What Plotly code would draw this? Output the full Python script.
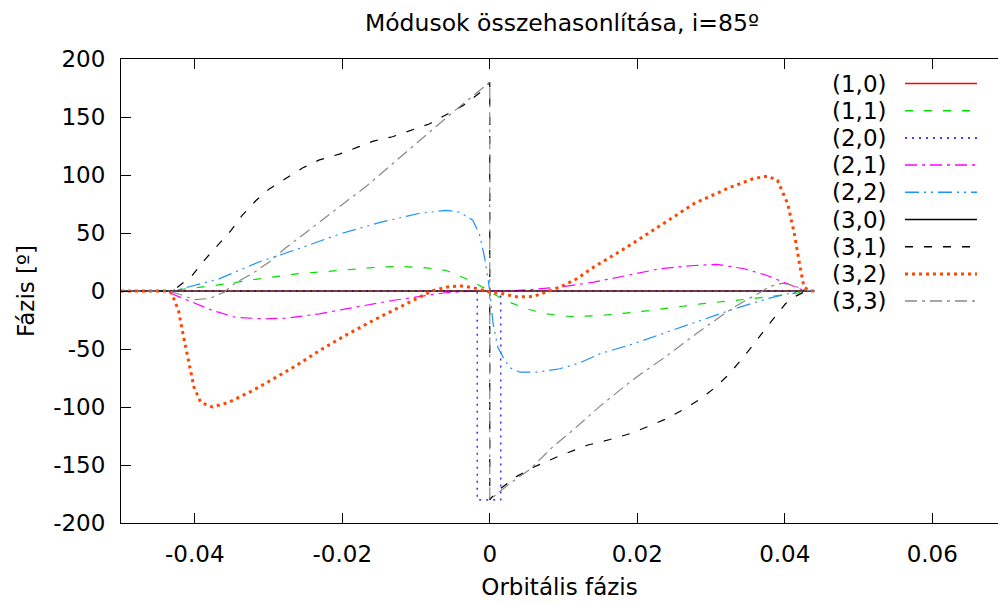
import plotly.graph_objects as go

# ---------------- data ----------------
names = ["(1,0)", "(1,1)", "(2,0)", "(2,1)", "(2,2)", "(3,0)", "(3,1)", "(3,2)", "(3,3)"]

x10 = [-0.05, 0.044]
y10 = [0, 0]

x11 = [-0.05, -0.0435, -0.0417, -0.0372, -0.0313, -0.0259, -0.0204, -0.015, -0.0122, -0.0086,
       -0.0059, -0.0032, -0.0014, 0, 0.00045, 0.0027, 0.005, 0.0077, 0.0109, 0.015, 0.0218,
       0.0286, 0.0354, 0.0399, 0.0435, 0.044]
y11 = [0, 0, 1.5, 4.8, 10.5, 15, 17.7, 20.6, 21.2, 20, 17.7, 10.5, 4.8, 0, -2.4, -9.7, -15.4,
       -19.7, -22, -21.2, -16.8, -11.1, -6.7, -3, 0, 0]

x20 = [-0.05, -0.0017, -0.0017, 0.0015, 0.0015, 0.044]
y20 = [0, 0, -180, -180, 0, 0]

x21 = [-0.05, -0.0435, -0.0431, -0.0408, -0.0376, -0.0345, -0.0308, -0.0277, -0.0231, -0.0195,
       -0.0132, -0.0086, -0.006, -0.003, 0, 0.003, 0.006, 0.0095, 0.0141, 0.0186, 0.0231, 0.0277,
       0.0308, 0.0345, 0.0376, 0.0404, 0.0426, 0.0435, 0.044]
y21 = [0, 0, -2.4, -8.2, -16.8, -22.6, -24, -23.5, -19.7, -15.4, -8.2, -3.9, -1.5, -0.3, 0, 0.3,
       1.5, 3.3, 7.6, 13.4, 19.2, 22, 22.9, 19.2, 13.4, 6.2, 0.4, 0, 0]

x22 = [-0.05, -0.0435, -0.0417, -0.0367, -0.0313, -0.0259, -0.0204, -0.015, -0.0095, -0.0059,
       -0.0041, -0.0023, -0.0014, -0.0007, -0.0002, 0, 0.00045, 0.0011, 0.0018, 0.0027, 0.0041,
       0.0064, 0.0095, 0.0122, 0.015, 0.0195, 0.024, 0.0286, 0.0331, 0.0376, 0.0404, 0.043, 0.044]
y22 = [0, 0, 2, 10.5, 25, 36.5, 49, 59, 67, 69.5, 68, 61, 49, 29, 9, 0, -28, -48.5, -57, -66,
       -70, -70, -67, -62, -54, -45.5, -35.5, -25.5, -15.5, -6.7, -2.4, 0, 0]

x30 = [-0.05, 0.044]
y30 = [0, 0]

x31 = [-0.05, -0.0435, -0.0426, -0.0404, -0.0385, -0.037, -0.0351, -0.0336, -0.0317, -0.0299,
       -0.0277, -0.0254, -0.0231, -0.0204, -0.0179, -0.0159, -0.0132, -0.0104, -0.0082, -0.0059,
       -0.0036, -0.0009, 0, 0, 0.0009, 0.0036, 0.0059, 0.0095, 0.0132, 0.0163, 0.019, 0.0218,
       0.024, 0.0263, 0.0286, 0.0306, 0.0324, 0.034, 0.0358, 0.0372, 0.0388, 0.0401, 0.0413,
       0.0426, 0.0435, 0.044]
y31 = [0, 0, 2, 13, 28, 39, 52, 65, 78, 88, 97, 106, 113, 118, 124, 129, 133, 139, 144, 152,
       160, 173, 180, -180, -173, -160, -152, -142, -133, -128, -123, -116, -110, -102, -93, -83,
       -72, -60, -46, -34, -21, -11, -5, -1, 0, 0]

x32 = [-0.05, -0.0435, -0.0431, -0.0422, -0.0415, -0.0408, -0.0401, -0.0392, -0.0376, -0.0354,
       -0.0322, -0.029, -0.0259, -0.0231, -0.0195, -0.0154, -0.0122, -0.0095, -0.0077, -0.0059,
       -0.0041, -0.0023, 0, 0.0018, 0.0036, 0.0059, 0.0082, 0.0095, 0.0118, 0.0141, 0.0186,
       0.0231, 0.0277, 0.0322, 0.0358, 0.0376, 0.039, 0.0404, 0.0413, 0.042, 0.0426, 0.0435, 0.044]
y32 = [0, 0, -2.4, -17, -40, -63, -83, -96, -100, -96, -86, -74.5, -63, -51.4, -38, -24, -14,
       -5.4, 0.4, 3.3, 4.5, 3, -1, -2.4, -5, -4.8, 0, 3.3, 10.5, 20.6, 37.8, 56.6, 75.3, 88.3, 97,
       99, 95.5, 75.3, 49.4, 23.5, 3.3, 0, 0]

x33 = [-0.05, -0.0435, -0.042, -0.04, -0.038, -0.036, -0.0345, -0.0322, -0.0299, -0.0277, -0.025,
       -0.0222, -0.0195, -0.0168, -0.0135, -0.0109, -0.008, -0.0054, -0.0027, 0, 0, 0.0027,
       0.0054, 0.0086, 0.0109, 0.015, 0.0195, 0.024, 0.0286, 0.0331, 0.0363, 0.038, 0.0397,
       0.041, 0.0425, 0.0435, 0.044]
y33 = [0, 0, -3, -7.5, -6.5, -1, 7, 15, 25, 37, 50, 64, 77, 90, 108, 122, 138, 152, 166, 180,
       -180, -166, -154, -134, -122, -99, -76, -56, -34, -14, -2.5, 4, 6.7, 5, 1.5, 0, 0]

xs = [x10, x11, x20, x21, x22, x30, x31, x32, x33]
ys = [y10, y11, y20, y21, y22, y30, y31, y32, y33]

x_tickvals = [-0.04, -0.02, 0, 0.02, 0.04, 0.06]
x_ticktext = ["-0.04", "-0.02", "0", "0.02", "0.04", "0.06"]
y_tickvals = [-200, -150, -100, -50, 0, 50, 100, 150, 200]
y_ticktext = ["-200", "-150", "-100", "-50", "0", "50", "100", "150", "200"]

# ---------------- styles ----------------
colors = ["#ff0000", "#00dd00", "#0000ff", "#ff00ff", "#1e90ff", "#000000", "#000000", "#ff4500", "#888888"]
dashes = ["solid", "8px,11px", "2px,5px", "12px,5px,3px,5px", "14px,5px,2px,5px,2px,5px",
          "solid", "8px,11px", "3px,4px", "12px,5px,3px,5px"]
widths = [1.2, 1.2, 1.2, 1.2, 1.2, 1.2, 1.2, 3, 1.2]

FONT = "DejaVu Sans"
FS = 23
W, H = 998, 604
L, R, T, B = 121, 0, 59, 81
PW, PH = W - L - R, H - T - B

fig = go.Figure()
for n, x, y, c, d, w in zip(names, xs, ys, colors, dashes, widths):
    fig.add_trace(go.Scatter(x=x, y=y, mode="lines", name=n, showlegend=False,
                             line=dict(color=c, dash=d, width=w)))

# manual gnuplot-style key: label on the left, line sample on the right
def px2paper_x(px):
    return (px - L) / PW

def px2paper_y(py):
    return (H - B - py) / PH

key_top, key_step = 83.5, 27.2
annotations = []
shapes = []
for i, (n, c, d, w) in enumerate(zip(names, colors, dashes, widths)):
    yy = px2paper_y(key_top + i * key_step)
    annotations.append(dict(x=px2paper_x(889), y=yy, xref="paper", yref="paper", text=n,
                            showarrow=False, xanchor="right", yanchor="middle",
                            font=dict(family=FONT, size=FS, color="black")))
    shapes.append(dict(type="line", xref="paper", yref="paper", x0=px2paper_x(905),
                       x1=px2paper_x(977), y0=yy, y1=yy, layer="above",
                       line=dict(color=c, dash=d, width=max(w, 1.5))))

fig.update_layout(
    width=W, height=H,
    margin=dict(l=L, r=R, t=T, b=B, pad=0),
    paper_bgcolor="white", plot_bgcolor="white",
    font=dict(family=FONT, size=FS, color="black"),
    title=dict(text="Módusok összehasonlítása, i=85º", x=562 / W, xref="container",
               xanchor="center", y=1 - 23 / H, yref="container", yanchor="middle",
               font=dict(family=FONT, size=23.5, color="black")),
    xaxis=dict(range=[-0.05, -0.05 + PW / 7375], tickvals=x_tickvals, ticktext=x_ticktext,
               ticks="inside", ticklen=10, tickcolor="black", showline=True, linecolor="black",
               linewidth=1, mirror="ticks", showgrid=False, zeroline=False,
               tickfont=dict(family=FONT, size=FS, color="black"),
               title=dict(text="Orbitális fázis", standoff=13,
                          font=dict(family=FONT, size=FS, color="black")),
               ticklabelstandoff=10),
    yaxis=dict(range=[-200, 200], tickvals=y_tickvals, ticktext=y_ticktext,
               ticks="inside", ticklen=10, tickcolor="black", showline=True, linecolor="black",
               linewidth=1, mirror=False, showgrid=False, zeroline=False,
               tickfont=dict(family=FONT, size=FS, color="black"),
               title=dict(text="Fázis [º]", standoff=12,
                          font=dict(family=FONT, size=FS, color="black")),
               ticklabelstandoff=10),
    yaxis2=dict(range=[-200, 200], tickvals=y_tickvals, overlaying="y", side="right",
                anchor="x", ticks="inside", ticklen=3, tickcolor="black", showline=False,
                showticklabels=False, showgrid=False, zeroline=False),
    annotations=annotations,
    shapes=shapes,
    showlegend=False,
)

fig.write_html("out.html")
